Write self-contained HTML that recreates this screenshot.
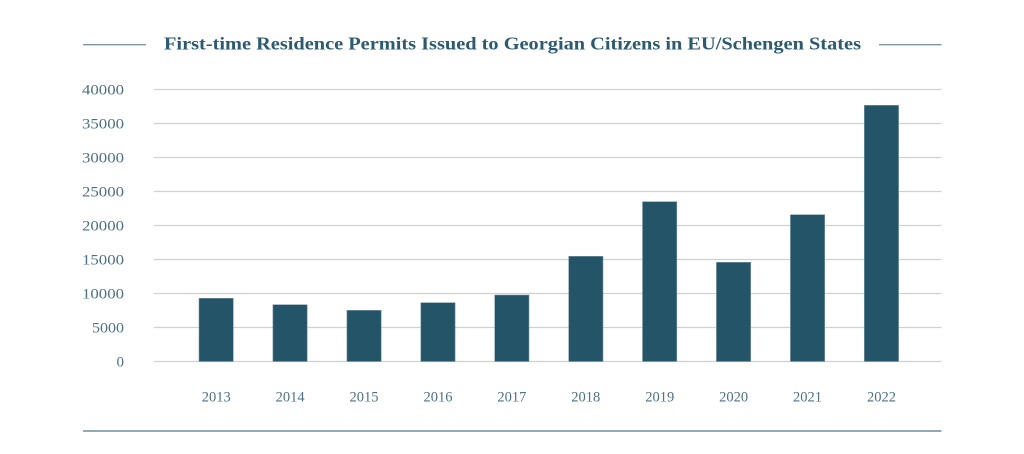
<!DOCTYPE html>
<html>
<head>
<meta charset="utf-8">
<style>
html,body{margin:0;padding:0;background:#ffffff;}
svg{display:block;}
text{font-family:"Liberation Serif",serif;}
</style>
</head>
<body>
<svg width="1024" height="454" viewBox="0 0 1024 454" xmlns="http://www.w3.org/2000/svg">
  <rect x="0" y="0" width="1024" height="454" fill="#ffffff"/>
  <!-- title lines -->
  <line x1="83" y1="44.7" x2="146" y2="44.7" stroke="#7b96a5" stroke-width="1.3"/>
  <line x1="879" y1="44.7" x2="941.5" y2="44.7" stroke="#7b96a5" stroke-width="1.3"/>
  <text x="164" y="49.5" font-size="18" font-weight="bold" fill="#2c5a70" textLength="697" lengthAdjust="spacingAndGlyphs">First-time Residence Permits Issued to Georgian Citizens in EU/Schengen States</text>

  <!-- gridlines -->
  <g stroke="#c9d4da" stroke-width="1.2">
    <line x1="154" y1="89.5" x2="941.5" y2="89.5"/>
    <line x1="154" y1="123.5" x2="941.5" y2="123.5"/>
    <line x1="154" y1="157.5" x2="941.5" y2="157.5"/>
    <line x1="154" y1="191.5" x2="941.5" y2="191.5"/>
    <line x1="154" y1="225.5" x2="941.5" y2="225.5"/>
    <line x1="154" y1="259.5" x2="941.5" y2="259.5"/>
    <line x1="154" y1="293.5" x2="941.5" y2="293.5"/>
    <line x1="154" y1="327.5" x2="941.5" y2="327.5"/>
    <line x1="154" y1="361.5" x2="941.5" y2="361.5"/>
  </g>

  <!-- y labels -->
  <g font-size="15" fill="#4d7184" text-anchor="end">
    <text x="124" y="94.5" textLength="42" lengthAdjust="spacingAndGlyphs">40000</text>
    <text x="124" y="128.5" textLength="42" lengthAdjust="spacingAndGlyphs">35000</text>
    <text x="124" y="162.5" textLength="42" lengthAdjust="spacingAndGlyphs">30000</text>
    <text x="124" y="196.5" textLength="42" lengthAdjust="spacingAndGlyphs">25000</text>
    <text x="124" y="230.5" textLength="42" lengthAdjust="spacingAndGlyphs">20000</text>
    <text x="124" y="264.5" textLength="42" lengthAdjust="spacingAndGlyphs">15000</text>
    <text x="124" y="298.5" textLength="42" lengthAdjust="spacingAndGlyphs">10000</text>
    <text x="124" y="332.5" textLength="32" lengthAdjust="spacingAndGlyphs">5000</text>
    <text x="124" y="366.5">0</text>
  </g>

  <!-- bars -->
  <g fill="#245468" stroke="#7f9aa8" stroke-width="0.6">
    <rect x="199" y="298.3" width="34.3" height="63.2"/>
    <rect x="272.9" y="304.7" width="34.3" height="56.8"/>
    <rect x="346.9" y="310.3" width="34.3" height="51.2"/>
    <rect x="420.8" y="302.7" width="34.3" height="58.8"/>
    <rect x="494.7" y="295" width="34.3" height="66.5"/>
    <rect x="568.7" y="256.3" width="34.3" height="105.2"/>
    <rect x="642.5" y="201.7" width="34.3" height="159.8"/>
    <rect x="716.4" y="262.3" width="34.3" height="99.2"/>
    <rect x="790.4" y="214.7" width="34.3" height="146.8"/>
    <rect x="864.3" y="105.3" width="34.3" height="256.2"/>
  </g>

  <!-- x labels -->
  <g font-size="14.5" fill="#4d7184" text-anchor="middle">
    <text x="216.2" y="401.5">2013</text>
    <text x="290.1" y="401.5">2014</text>
    <text x="364" y="401.5">2015</text>
    <text x="438" y="401.5">2016</text>
    <text x="511.9" y="401.5">2017</text>
    <text x="585.8" y="401.5">2018</text>
    <text x="659.7" y="401.5">2019</text>
    <text x="733.6" y="401.5">2020</text>
    <text x="807.5" y="401.5">2021</text>
    <text x="881.5" y="401.5">2022</text>
  </g>

  <!-- bottom line -->
  <line x1="83" y1="431" x2="941.5" y2="431" stroke="#6e8b9b" stroke-width="1.4"/>
</svg>
</body>
</html>
